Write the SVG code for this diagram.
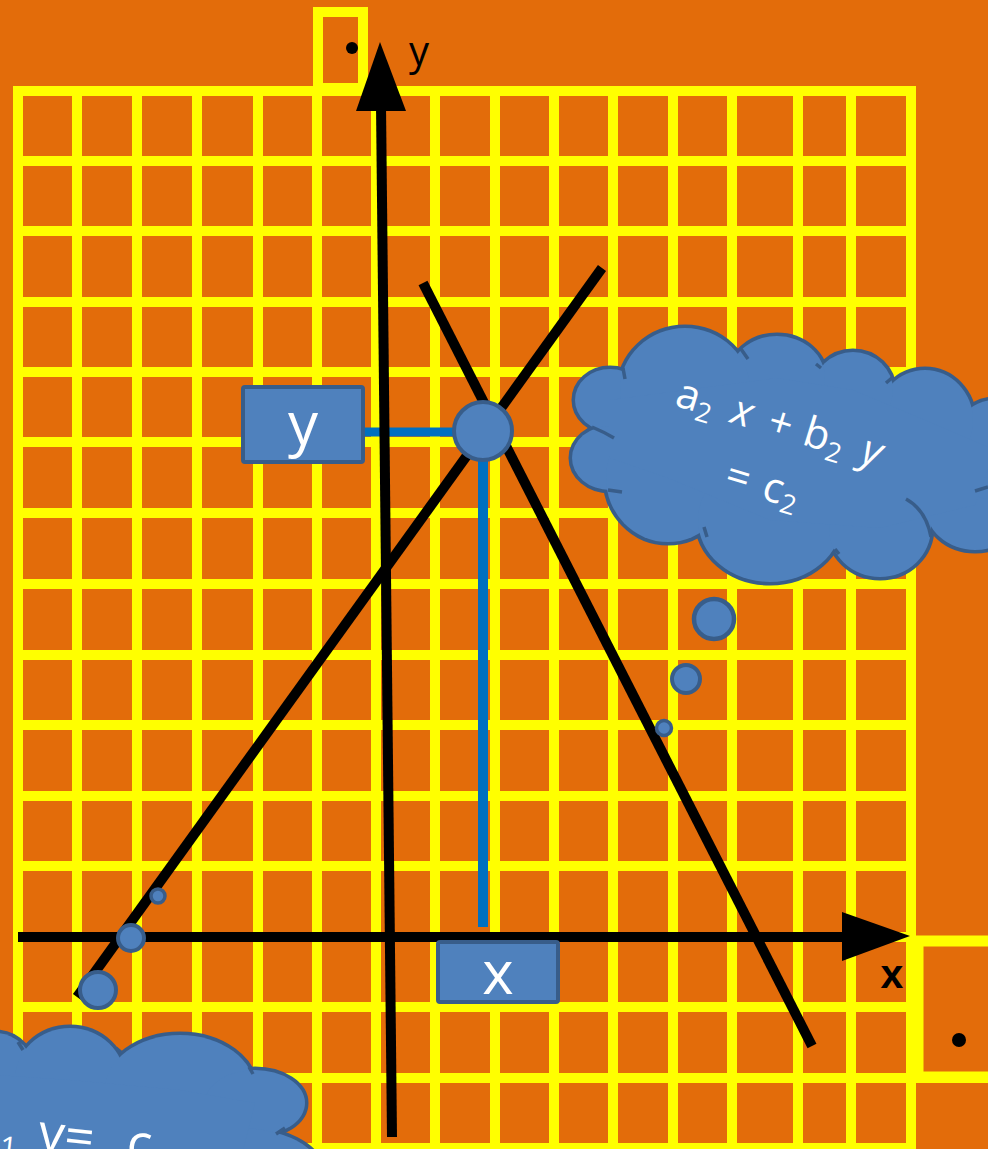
<svg xmlns="http://www.w3.org/2000/svg" width="988" height="1149" viewBox="0 0 988 1149">
<style>
.grid{stroke:#FFFF00;stroke-width:10;fill:none}
.blk{stroke:#000;stroke-width:10;fill:none}
.conn{stroke:#0070C0;stroke-width:9;fill:none}
.nd{fill:#4F81BD;stroke:#385D8A;stroke-width:4}
.cl{fill:#4F81BD;stroke:#385D8A;stroke-width:7}
.clf{fill:#4F81BD;stroke:none}
.stub{fill:none;stroke:#385D8A;stroke-width:3.5}
.wt{fill:#fff;font-family:"Open Sans","DejaVu Sans",sans-serif}
</style>
<rect width="988" height="1149" fill="#E36C0A"/>
<g id="grid">
<path class="grid" d="M13 91H916M13 161H916M13 231H916M13 302H916M13 372H916M13 442H916M13 513H916M13 584H916M13 655H916M13 725H916M13 796H916M13 866H916M13 937H916M13 1007H916M13 1078H988M13 1148H916"/>
<path class="grid" d="M18 86V1149M77 86V1149M137 86V1149M197 86V1149M258 86V1149M317 86V1149M376 86V1149M435 86V1149M495 86V1149M554 86V1149M613 86V1149M673 86V1149M732 86V1149M798 86V1149M851 86V1149M911 86V1149"/>
<rect class="grid" x="318" y="12" width="45" height="76"/>
<rect class="grid" x="918" y="941" width="100" height="136" style="stroke-width:11"/>
<circle cx="352" cy="48" r="6" fill="#000"/>
<circle cx="959" cy="1040" r="7" fill="#000"/>
</g>
<g id="connectors">
<line class="blk" x1="77" y1="997" x2="602" y2="268"/>
<line class="blk" x1="423" y1="283" x2="812" y2="1046"/>
<line class="conn" x1="363" y1="432" x2="460" y2="432"/>
<line class="conn" x1="483" y1="455" x2="483" y2="927" style="stroke-width:10"/>
<line class="blk" x1="392" y1="1137" x2="381" y2="105"/>
<polygon points="356,111 380,42 406,111" fill="#000"/>
<line class="blk" x1="18" y1="937" x2="846" y2="937"/>
<polygon points="842,912 910,936 842,961" fill="#000"/>
</g>
<g id="axis-labels">
<text x="409" y="65" font-family="'Open Sans','DejaVu Sans',sans-serif" font-size="40" fill="#000">y</text>
<text x="892" y="988" text-anchor="middle" font-family="'Liberation Sans',Arial,sans-serif" font-weight="bold" font-size="41" fill="#000">x</text>
</g>
<g id="point">
<circle class="nd" cx="483" cy="431" r="29"/>
</g>
<g id="y-box">
<rect class="nd" x="243" y="387" width="120" height="75" rx="2"/>
<text class="wt" x="303" y="445" text-anchor="middle" font-size="60">y</text>
</g>
<g id="x-box">
<rect class="nd" x="438" y="942" width="120" height="60" rx="2"/>
<text class="wt" x="498" y="994" text-anchor="middle" font-size="60">x</text>
</g>
<g id="bubbles-left">
<circle class="nd" cx="98" cy="990" r="18"/>
<circle class="nd" cx="131" cy="938" r="13"/>
<circle class="nd" cx="158" cy="896" r="7" style="stroke-width:3.5"/>
</g>
<g id="bubbles-right">
<circle class="nd" cx="714" cy="619" r="20" style="stroke-width:4.5"/>
<circle class="nd" cx="686" cy="679" r="14"/>
<circle class="nd" cx="664" cy="728" r="7.5" style="stroke-width:3.5"/>
</g>
<g id="cloud-2">
<g class="cl">
<ellipse cx="610" cy="400" rx="35" ry="31"/>
<ellipse cx="610" cy="458" rx="38" ry="32"/>
<ellipse cx="668" cy="478" rx="62" ry="64"/>
<ellipse cx="770" cy="520" rx="72" ry="62"/>
<ellipse cx="880" cy="528" rx="51" ry="49"/>
<ellipse cx="975" cy="505" rx="50" ry="45"/>
<ellipse cx="995" cy="450" rx="45" ry="50"/>
<ellipse cx="925" cy="420" rx="48" ry="50"/>
<ellipse cx="853" cy="390" rx="40" ry="38"/>
<ellipse cx="777" cy="378" rx="48" ry="42"/>
<ellipse cx="685" cy="390" rx="65" ry="62"/>
</g>
<g class="clf">
<ellipse cx="610" cy="400" rx="35" ry="31"/>
<ellipse cx="610" cy="458" rx="38" ry="32"/>
<ellipse cx="668" cy="478" rx="62" ry="64"/>
<ellipse cx="770" cy="520" rx="72" ry="62"/>
<ellipse cx="880" cy="528" rx="51" ry="49"/>
<ellipse cx="975" cy="505" rx="50" ry="45"/>
<ellipse cx="995" cy="450" rx="45" ry="50"/>
<ellipse cx="925" cy="420" rx="48" ry="50"/>
<ellipse cx="853" cy="390" rx="40" ry="38"/>
<ellipse cx="777" cy="378" rx="48" ry="42"/>
<ellipse cx="685" cy="390" rx="65" ry="62"/>
<polygon points="610,400 685,390 777,378 853,390 925,420 995,450 975,505 880,528 770,520 668,478 610,458"/>
</g>
<path class="stub" d="M623 368L625 379M592 427Q604 432 614 438M608 490L622 492M704 527L707 537M835 549L839 554M906 499Q926 510 931 537M975 491L988 487M886 383L893 377M816 364L821 368M741 349L748 359"/>
<g transform="translate(771,459) rotate(17)">
<text class="wt" font-size="42"><tspan x="-109" y="-23">a</tspan><tspan x="-86" y="-15" font-size="27">2</tspan><tspan x="-51" y="-23" font-style="italic">x</tspan><tspan x="-13" y="-23">+</tspan><tspan x="24" y="-23">b</tspan><tspan x="50" y="-15" font-size="27">2</tspan><tspan x="85" y="-23" font-style="italic">y</tspan><tspan x="-38" y="41">=</tspan><tspan x="1" y="41">c</tspan><tspan x="22" y="48" font-size="27">2</tspan></text>
</g>
</g>
<g id="cloud-1">
<g class="cl">
<ellipse cx="-5" cy="1075" rx="40" ry="42"/>
<ellipse cx="70" cy="1080" rx="55" ry="52"/>
<ellipse cx="180" cy="1090" rx="75" ry="55"/>
<ellipse cx="255" cy="1103" rx="50" ry="33"/>
<ellipse cx="238" cy="1170" rx="82" ry="42"/>
</g>
<g class="clf">
<ellipse cx="-5" cy="1075" rx="40" ry="42"/>
<ellipse cx="70" cy="1080" rx="55" ry="52"/>
<ellipse cx="180" cy="1090" rx="75" ry="55"/>
<ellipse cx="255" cy="1103" rx="50" ry="33"/>
<ellipse cx="238" cy="1170" rx="82" ry="42"/>
<polygon points="-5,1075 70,1080 180,1090 255,1103 238,1170 0,1170"/>
</g>
<path class="stub" d="M18 1042L23 1050M116 1048L122 1053M249 1067L253 1074M276 1134L285 1128"/>
<g transform="rotate(6.3 0 1146)">
<text class="wt" font-size="52"><tspan x="0" y="1157" font-size="30">1</tspan><tspan x="37" y="1146">y=</tspan><tspan x="126" y="1146">c</tspan><tspan x="150" y="1154" font-size="30">1</tspan></text>
</g>
</g>
</svg>
